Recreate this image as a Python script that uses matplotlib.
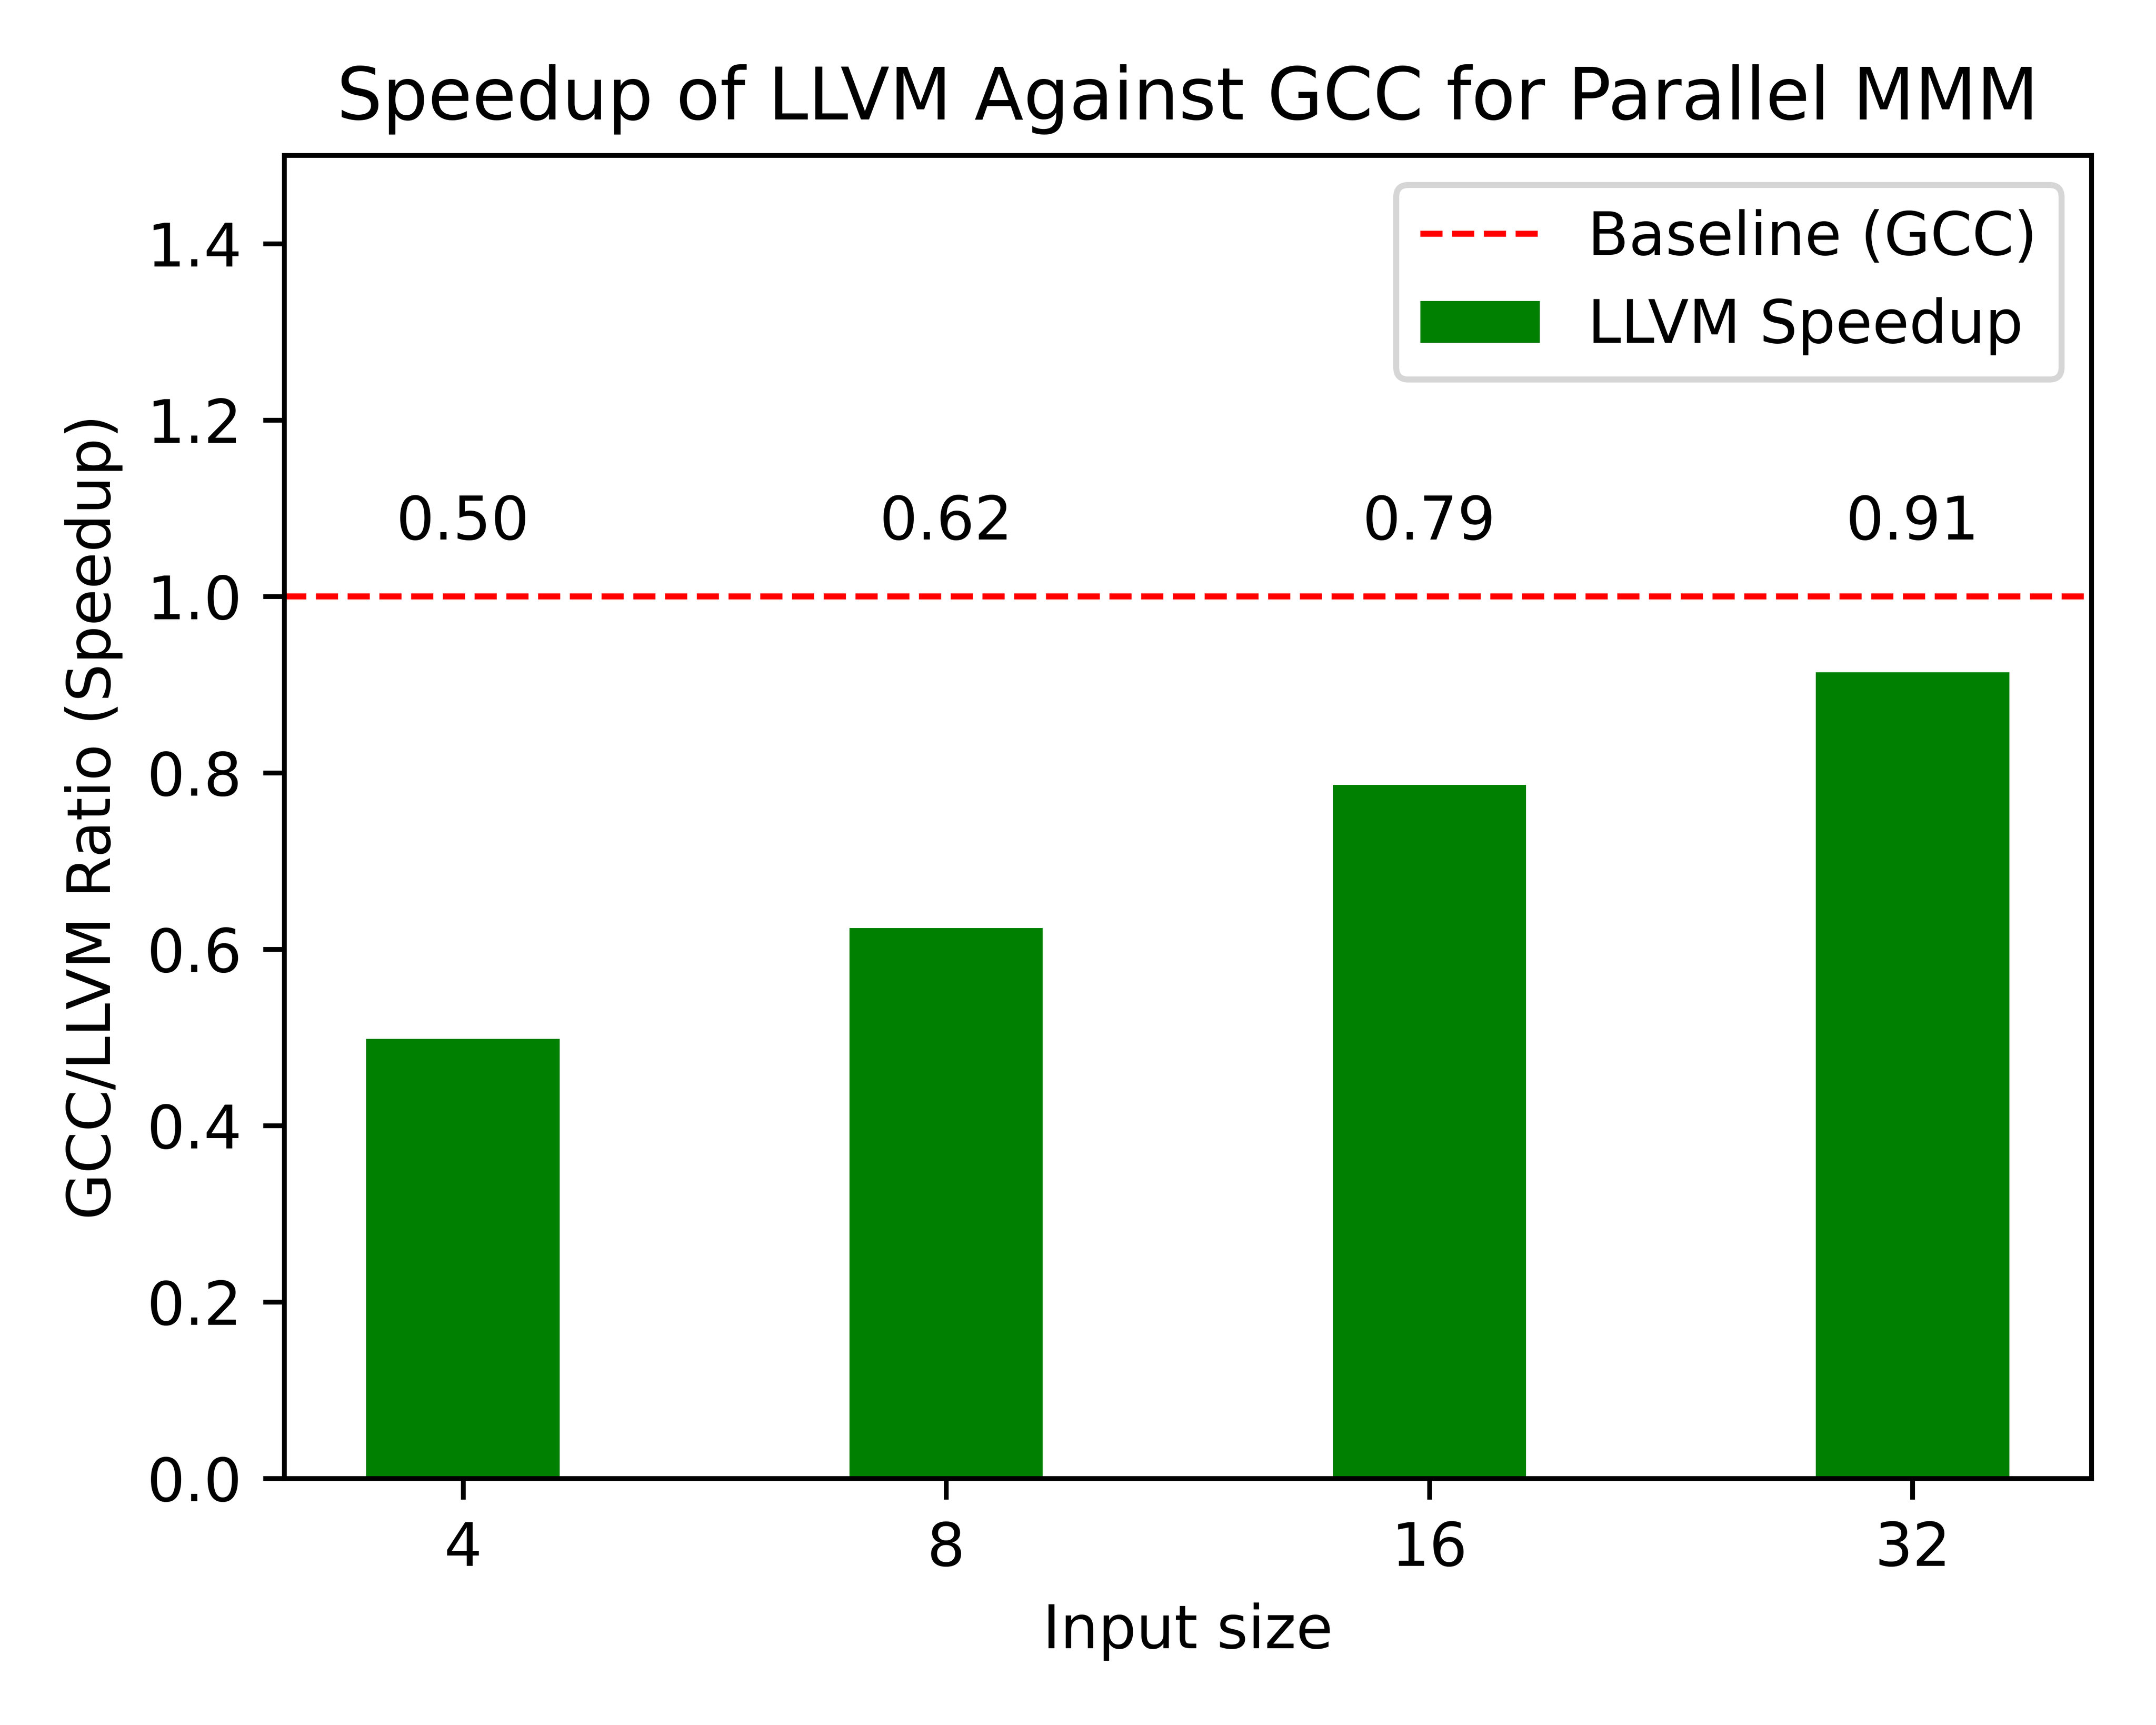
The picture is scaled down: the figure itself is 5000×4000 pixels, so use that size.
import matplotlib
matplotlib.use("Agg")
import matplotlib.pyplot as plt
import numpy as np

# ─── DATA ────────────────────────────────────────────────────
input_sizes = ["4", "8", "16", "32"]
speedups    = [0.498, 0.624, 0.786, 0.914]
baseline    = 1.0

# ─── PLOT ────────────────────────────────────────────────────
fig, ax = plt.subplots(figsize=(5, 4))

x = np.arange(len(input_sizes))
ax.bar(x, speedups, width=0.4, color="green", label="LLVM Speedup")
ax.axhline(baseline, color="red", linestyle="--", linewidth=1, label="Baseline (GCC)")

# value labels sit at a fixed height above the baseline
for xi, v in zip(x, speedups):
    ax.text(xi, 1.05, f"{v:.2f}", ha="center", va="bottom")

ax.set_xticks(x)
ax.set_xticklabels(input_sizes)
ax.set_ylim(0, 1.5)
ax.set_xlabel("Input size")
ax.set_ylabel("GCC/LLVM Ratio (Speedup)")
ax.set_title("Speedup of LLVM Against GCC for Parallel MMM")
ax.legend(loc="upper right")

fig.subplots_adjust(left=0.1318, right=0.970, top=0.910, bottom=0.143)
plt.savefig("out.png", dpi=1000)
